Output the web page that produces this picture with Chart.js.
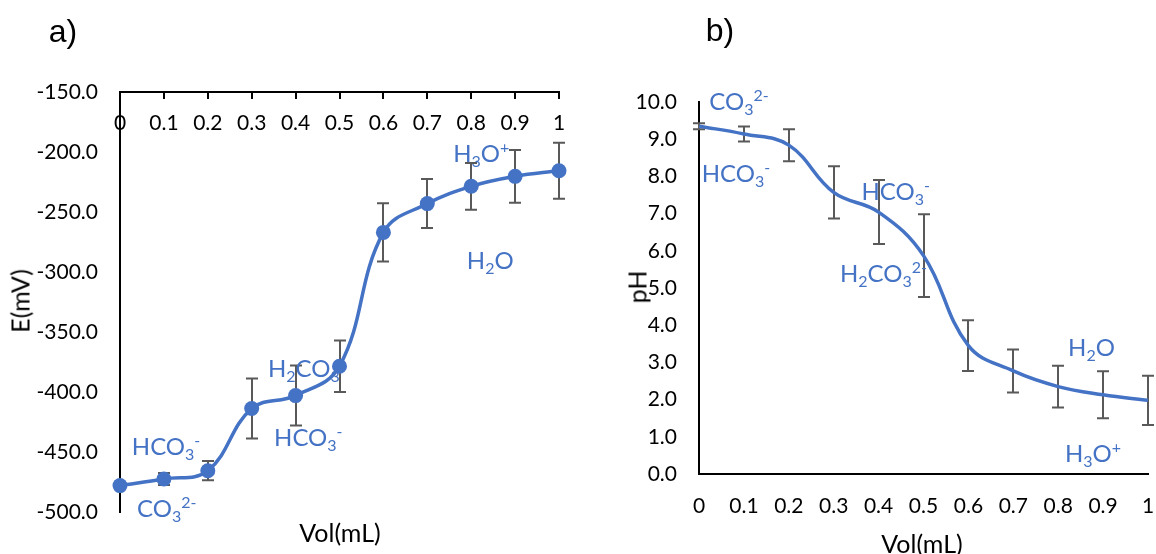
<!DOCTYPE html>
<html>
<head>
<meta charset="utf-8">
<script src="https://cdn.jsdelivr.net/npm/chart.js@4/dist/chart.umd.min.js"></script>
<style>
  html, body { margin: 0; padding: 0; background: #fff; }
  #wrap { position: relative; width: 1156px; height: 554px; overflow: hidden; font-family: Lato, "Open Sans", sans-serif; }
  .box { position: absolute; top: 0; width: 578px; height: 554px; }
  .lbl { position: absolute; transform: translate(-50%, -50%); white-space: nowrap; color: #000; line-height: 1; }
  .panel { font-family: "Liberation Sans", Arial, sans-serif; font-size: 32px; }
  .axt { font-size: 25px; }
  .rot { transform: translate(-50%, -50%) rotate(-90deg); }
</style>
</head>
<body>
<div id="wrap">
  <div class="box" style="left:0"><canvas id="chartA"></canvas></div>
  <div class="box" style="left:578px"><canvas id="chartB"></canvas></div>
  <div class="lbl panel" style="left:63px;top:31px">a)</div>
  <div class="lbl panel" style="left:720px;top:30px">b)</div>
  <div class="lbl axt rot" style="left:20px;top:301px">E(mV)</div>
  <div class="lbl axt" style="left:340px;top:532px">Vol(mL)</div>
  <div class="lbl axt rot" style="left:637px;top:287px">pH</div>
  <div class="lbl axt" style="left:922px;top:543px">Vol(mL)</div>
</div>
<script>
const volumes = [0, 0.1, 0.2, 0.3, 0.4, 0.5, 0.6, 0.7, 0.8, 0.9, 1];
const volTickLabels = ['0', '0.1', '0.2', '0.3', '0.4', '0.5', '0.6', '0.7', '0.8', '0.9', '1'];

// a) potential
const potential    = [-478, -472.5, -465.6, -413.8, -403, -378.5, -267, -243, -228.6, -220.3, -215.6];
const potentialErr = [2, 5, 8, 25, 25, 21.5, 24.3, 20.4, 19.5, 22, 23.3];

// b) pH
const phValues = [9.35, 9.14, 8.84, 7.57, 7.04, 5.87, 3.45, 2.77, 2.35, 2.13, 1.98];
const phErr    = [0.08, 0.2, 0.43, 0.7, 0.86, 1.11, 0.68, 0.58, 0.56, 0.63, 0.66];

// species labels: [text, 0 normal / -1 subscript / 1 superscript]
const speciesA = [
  { x: 0.027, y: -445.6, parts: [['HCO', 0], ['3', -1], ['-', 1]] },
  { x: 0.039, y: -496.7, parts: [['CO', 0], ['3', -1], ['2-', 1]] },
  { x: 0.337, y: -380.3, parts: [['H', 0], ['2', -1], ['CO', 0], ['3', -1]] },
  { x: 0.351, y: -438.3, parts: [['HCO', 0], ['3', -1], ['-', 1]] },
  { x: 0.759, y: -201, parts: [['H', 0], ['3', -1], ['O', 0], ['+', 1]] },
  { x: 0.79, y: -290, parts: [['H', 0], ['2', -1], ['O', 0]] },
];
const speciesB = [
  { x: 0.023, y: 10.02, parts: [['CO', 0], ['3', -1], ['2-', 1]] },
  { x: 0.006, y: 8.09, parts: [['HCO', 0], ['3', -1], ['-', 1]] },
  { x: 0.362, y: 7.6, parts: [['HCO', 0], ['3', -1], ['-', 1]] },
  { x: 0.314, y: 5.4, parts: [['H', 0], ['2', -1], ['CO', 0], ['3', -1], ['2-', 1]] },
  { x: 0.822, y: 3.39, parts: [['H', 0], ['2', -1], ['O', 0]] },
  { x: 0.815, y: 0.56, parts: [['H', 0], ['3', -1], ['O', 0], ['+', 1]] },
];

const blue = '#4472C4';
const tickFont = { family: 'Lato', size: 21 };

const errorBars = {
  id: 'errorBars',
  beforeDatasetsDraw(chart, args, opts) {
    const { ctx, scales: { x, y } } = chart;
    const data = chart.data.datasets[0].data;
    ctx.save();
    ctx.strokeStyle = '#595959';
    ctx.lineWidth = 2;
    data.forEach((p, i) => {
      const e = opts.values[i];
      if (!e) return;
      const px = Math.round(x.getPixelForValue(p.x));
      const top = y.getPixelForValue(p.y + e);
      const bot = y.getPixelForValue(p.y - e);
      ctx.beginPath();
      ctx.moveTo(px, top); ctx.lineTo(px, bot);
      ctx.moveTo(px - 6, top); ctx.lineTo(px + 6, top);
      ctx.moveTo(px - 6, bot); ctx.lineTo(px + 6, bot);
      ctx.stroke();
    });
    ctx.restore();
  }
};

const speciesLabels = {
  id: 'speciesLabels',
  afterDatasetsDraw(chart, args, opts) {
    const { ctx, scales: { x, y } } = chart;
    ctx.save();
    ctx.fillStyle = blue;
    ctx.textBaseline = 'alphabetic';
    ctx.textAlign = 'left';
    opts.items.forEach(item => {
      let px = x.getPixelForValue(item.x);
      const base = y.getPixelForValue(item.y) + 8.5;
      item.parts.forEach(([txt, pos]) => {
        ctx.font = (pos === 0 ? 24 : 16) + 'px Lato';
        const dy = pos === -1 ? 5 : pos === 1 ? -9 : 0;
        ctx.fillText(txt, px, base + dy);
        px += ctx.measureText(txt).width;
      });
    });
    ctx.restore();
  }
};

function lineData(ys) {
  return volumes.map((v, i) => ({ x: v, y: ys[i] }));
}

// keep the volume axis from pushing the plot area in
const noPad = s => { s.paddingLeft = 0; s.paddingRight = 0; };

new Chart(document.getElementById('chartA'), {
  type: 'line',
  data: {
    datasets: [{
      data: lineData(potential),
      borderColor: blue,
      backgroundColor: blue,
      borderWidth: 3.5,
      pointRadius: 7.5,
      pointHoverRadius: 7.5,
      pointBorderWidth: 0,
      tension: 0.4,
      fill: false,
      clip: false,
    }],
  },
  options: {
    responsive: true,
    maintainAspectRatio: false,
    animation: false,
    layout: { padding: { left: 0, right: 19, top: 92, bottom: 42 } },
    plugins: {
      legend: { display: false },
      tooltip: { enabled: false },
      errorBars: { values: potentialErr },
      speciesLabels: { items: speciesA },
    },
    scales: {
      x: {
        type: 'linear',
        position: { y: -150 },
        min: 0,
        max: 1,
        afterFit: noPad,
        ticks: {
          stepSize: 0.1, padding: 13, color: '#000', font: tickFont,
          maxRotation: 0, autoSkip: false,
          callback: (v, i) => volTickLabels[i],
        },
        grid: { display: true, drawOnChartArea: false, drawTicks: true, tickLength: 6, color: '#000', lineWidth: 2 },
        border: { display: true, color: '#000', width: 2 },
      },
      y: {
        min: -500,
        max: -150,
        afterFit: s => { s.width = 120; },
        ticks: { stepSize: 50, padding: 22, color: '#000', font: tickFont, callback: v => v.toFixed(1) },
        grid: { display: false, drawTicks: false },
        border: { display: true, color: '#000', width: 2 },
      },
    },
  },
  plugins: [errorBars, speciesLabels],
});

new Chart(document.getElementById('chartB'), {
  type: 'line',
  data: {
    datasets: [{
      data: lineData(phValues),
      borderColor: blue,
      backgroundColor: blue,
      borderWidth: 3.5,
      pointRadius: 0,
      pointHoverRadius: 0,
      tension: 0.4,
      fill: false,
    }],
  },
  options: {
    responsive: true,
    maintainAspectRatio: false,
    animation: false,
    layout: { padding: { left: 0, right: 8, top: 102, bottom: 80 } },
    plugins: {
      legend: { display: false },
      tooltip: { enabled: false },
      errorBars: { values: phErr },
      speciesLabels: { items: speciesB },
    },
    scales: {
      x: {
        type: 'linear',
        position: { y: 0 },
        min: 0,
        max: 1,
        afterFit: noPad,
        ticks: {
          stepSize: 0.1, padding: 20, color: '#000', font: tickFont,
          maxRotation: 0, autoSkip: false,
          callback: (v, i) => volTickLabels[i],
        },
        grid: { display: false, drawTicks: false },
        border: { display: true, color: '#000', width: 2 },
      },
      y: {
        min: 0,
        max: 10,
        afterFit: s => { s.width = 121; },
        ticks: { stepSize: 1, padding: 22, color: '#000', font: tickFont, callback: v => v.toFixed(1) },
        grid: { display: false, drawTicks: false },
        border: { display: true, color: '#000', width: 2 },
      },
    },
  },
  plugins: [errorBars, speciesLabels],
});
</script>
</body>
</html>
